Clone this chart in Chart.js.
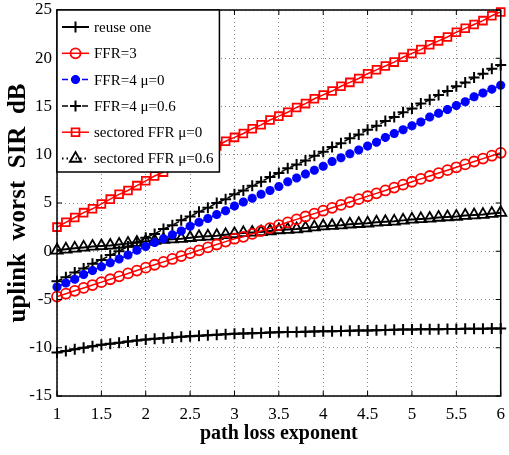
<!DOCTYPE html>
<html>
<head>
<meta charset="utf-8">
<script src="https://cdn.jsdelivr.net/npm/chart.js@4.4.0/dist/chart.umd.min.js"></script>
<style>
  html, body { margin: 0; padding: 0; background: #fff; }
  #wrap { width: 509px; height: 455px; }
</style>
</head>
<body>
<div id="wrap"><canvas id="sirChart"></canvas></div>
<script>
// path loss exponent (x) and the six curves
var pathLoss = [1.0,1.1,1.2,1.3,1.4,1.5,1.6,1.7,1.8,1.9,2.0,2.1,2.2,2.3,2.4,2.5,2.6,2.7,2.8,2.9,3.0,3.1,3.2,3.3,3.4,3.5,3.6,3.7,3.8,3.9,4.0,4.1,4.2,4.3,4.4,4.5,4.6,4.7,4.8,4.9,5.0,5.1,5.2,5.3,5.4,5.5,5.6,5.7,5.8,5.9,6.0];
var reuseOne = [-10.5,-10.33,-10.16,-10.0,-9.85,-9.7,-9.58,-9.47,-9.36,-9.25,-9.15,-9.08,-9.01,-8.94,-8.87,-8.8,-8.75,-8.7,-8.65,-8.6,-8.55,-8.52,-8.49,-8.46,-8.43,-8.4,-8.38,-8.36,-8.34,-8.32,-8.3,-8.28,-8.26,-8.24,-8.22,-8.2,-8.18,-8.16,-8.14,-8.12,-8.1,-8.09,-8.08,-8.07,-8.06,-8.05,-8.04,-8.03,-8.02,-8.01,-8.0];
var ffr3 = [-4.7,-4.4,-4.1,-3.8,-3.5,-3.2,-2.9,-2.6,-2.3,-2.0,-1.7,-1.4,-1.1,-0.8,-0.5,-0.2,0.1,0.4,0.7,1.0,1.3,1.5,1.8,2.1,2.4,2.7,3.0,3.3,3.6,3.9,4.2,4.5,4.8,5.1,5.4,5.7,6.0,6.3,6.6,6.9,7.2,7.5,7.8,8.1,8.4,8.7,9.0,9.3,9.6,9.9,10.2];
var ffr4Mu0 = [-3.7,-3.3,-2.9,-2.4,-2.0,-1.6,-1.2,-0.8,-0.4,0.1,0.5,0.9,1.3,1.7,2.1,2.6,3.0,3.4,3.8,4.2,4.7,5.1,5.5,5.9,6.3,6.7,7.2,7.6,8.0,8.4,8.8,9.3,9.7,10.1,10.5,10.9,11.3,11.8,12.2,12.6,13.0,13.4,13.9,14.3,14.7,15.1,15.5,16.0,16.4,16.8,17.2];
var ffr4Mu06 = [-3.1,-2.7,-2.2,-1.8,-1.3,-0.9,-0.4,0.0,0.5,0.9,1.4,1.8,2.3,2.7,3.2,3.6,4.1,4.5,5.0,5.4,5.9,6.3,6.8,7.2,7.7,8.1,8.6,9.0,9.4,9.9,10.3,10.8,11.2,11.7,12.1,12.6,13.0,13.5,13.9,14.4,14.8,15.3,15.7,16.2,16.6,17.1,17.5,18.0,18.4,18.9,19.3];
var sectoredMu0 = [2.5,3.0,3.5,4.0,4.4,4.9,5.4,5.9,6.3,6.8,7.3,7.8,8.2,8.7,9.1,9.6,10.0,10.5,10.9,11.4,11.8,12.2,12.7,13.1,13.6,14.0,14.4,14.9,15.3,15.8,16.2,16.6,17.1,17.5,17.9,18.4,18.8,19.2,19.6,20.1,20.5,20.9,21.4,21.8,22.2,22.7,23.1,23.5,23.9,24.4,24.8];
var sectoredMu06 = [0.1,0.2,0.3,0.4,0.5,0.55,0.6,0.7,0.8,0.9,1.0,1.1,1.2,1.25,1.3,1.4,1.5,1.55,1.6,1.7,1.8,1.9,1.95,2.0,2.1,2.2,2.25,2.3,2.4,2.5,2.6,2.65,2.7,2.8,2.85,2.9,3.0,3.05,3.1,3.2,3.3,3.35,3.4,3.5,3.55,3.6,3.7,3.75,3.8,3.9,4.0];

var seriesNames = ['reuse one', 'FFR=3', 'FFR=4 μ=0', 'FFR=4 μ=0.6', 'sectored FFR μ=0', 'sectored FFR μ=0.6'];
var xTickValues = [1, 1.5, 2, 2.5, 3, 3.5, 4, 4.5, 5, 5.5, 6];
var yTickValues = [-15, -10, -5, 0, 5, 10, 15, 20, 25];

var serif = '"Liberation Serif", "Times New Roman", serif';

function toPoints(ys) {
  return pathLoss.map(function (x, i) { return { x: x, y: ys[i] }; });
}

function makeSet(name, ys, color, dash, lineW, style, radius, markW, legendDash) {
  return {
    label: name,
    data: toPoints(ys),
    borderColor: color,
    borderWidth: lineW,
    borderDash: dash,
    legendDash: legendDash || dash,
    pointStyle: style,
    pointRadius: radius,
    pointBorderWidth: markW,
    pointBorderColor: color,
    pointBackgroundColor: 'rgba(0,0,0,0)',
    backgroundColor: 'rgba(0,0,0,0)',
    tension: 0,
    clip: false
  };
}

var datasets = [
  makeSet(seriesNames[0], reuseOne, '#000000', [], 2, 'cross', 5.5, 2),
  makeSet(seriesNames[1], ffr3, '#ff0000', [], 1.5, 'circle', 5, 1.8),
  makeSet(seriesNames[2], ffr4Mu0, '#0000ff', [6, 4], 1.5, 'star', 4.5, 3),
  makeSet(seriesNames[3], ffr4Mu06, '#000000', [6, 4], 1.5, 'cross', 5.5, 2),
  makeSet(seriesNames[4], sectoredMu0, '#ff0000', [], 1.5, 'rect', 5.5, 1.8),
  makeSet(seriesNames[5], sectoredMu06, '#000000', [], 2, 'triangle', 6.5, 1.8, [1.5, 3])
];

// draw one marker like chart.js does, for the legend box
function drawMarker(ctx, ds, x, y) {
  var r = ds.pointRadius;
  ctx.save();
  ctx.setLineDash([]);
  ctx.lineWidth = ds.pointBorderWidth;
  ctx.strokeStyle = ds.pointBorderColor;
  ctx.beginPath();
  if (ds.pointStyle === 'cross' || ds.pointStyle === 'star') {
    ctx.moveTo(x - r, y); ctx.lineTo(x + r, y);
    ctx.moveTo(x, y - r); ctx.lineTo(x, y + r);
    if (ds.pointStyle === 'star') {
      var d = r * Math.SQRT1_2;
      ctx.moveTo(x - d, y - d); ctx.lineTo(x + d, y + d);
      ctx.moveTo(x - d, y + d); ctx.lineTo(x + d, y - d);
    }
  } else if (ds.pointStyle === 'circle') {
    ctx.arc(x, y, r, 0, Math.PI * 2);
  } else if (ds.pointStyle === 'rect') {
    var s = r * Math.SQRT1_2;
    ctx.rect(x - s, y - s, 2 * s, 2 * s);
  } else if (ds.pointStyle === 'triangle') {
    ctx.moveTo(x, y - r);
    ctx.lineTo(x + r * 0.866, y + r / 2);
    ctx.lineTo(x - r * 0.866, y + r / 2);
    ctx.closePath();
  }
  ctx.stroke();
  ctx.restore();
}

var framePlugin = {
  id: 'frame',
  afterDatasetsDraw: function (chart) {
    var ctx = chart.ctx, a = chart.chartArea;
    var xs = chart.scales.x, ys = chart.scales.y;
    ctx.save();
    ctx.strokeStyle = '#000';
    ctx.lineWidth = 1;
    ctx.beginPath();
    xTickValues.forEach(function (v) {
      var px = xs.getPixelForValue(v);
      ctx.moveTo(px, a.bottom); ctx.lineTo(px, a.bottom - 5);
      ctx.moveTo(px, a.top); ctx.lineTo(px, a.top + 5);
    });
    yTickValues.forEach(function (v) {
      var py = ys.getPixelForValue(v);
      ctx.moveTo(a.left, py); ctx.lineTo(a.left + 5, py);
      ctx.moveTo(a.right, py); ctx.lineTo(a.right - 5, py);
    });
    ctx.stroke();
    ctx.lineWidth = 1.5;
    ctx.strokeRect(a.left, a.top, a.right - a.left, a.bottom - a.top);
    ctx.restore();
  }
};

var boxLegendPlugin = {
  id: 'boxLegend',
  afterDraw: function (chart) {
    var ctx = chart.ctx, a = chart.chartArea;
    var sets = chart.data.datasets;
    ctx.save();
    ctx.font = '15px ' + serif;
    var textX = a.left + 37;
    var widest = 0;
    sets.forEach(function (ds) { widest = Math.max(widest, ctx.measureText(ds.label).width); });
    var boxW = textX + widest + 6 - a.left;
    var boxH = 162;
    ctx.fillStyle = '#fff';
    ctx.fillRect(a.left, a.top, boxW, boxH);
    ctx.strokeStyle = '#000';
    ctx.lineWidth = 1.5;
    ctx.strokeRect(a.left, a.top, boxW, boxH);
    sets.forEach(function (ds, i) {
      var y = a.top + 17 + i * 26.3;
      ctx.save();
      ctx.strokeStyle = ds.borderColor;
      ctx.lineWidth = ds.borderWidth;
      ctx.setLineDash(ds.legendDash);
      ctx.beginPath();
      ctx.moveTo(a.left + 5, y);
      ctx.lineTo(a.left + 32, y);
      ctx.stroke();
      ctx.restore();
      drawMarker(ctx, ds, a.left + 18.5, y);
      ctx.fillStyle = '#000';
      ctx.textBaseline = 'middle';
      ctx.textAlign = 'left';
      ctx.fillText(ds.label, textX, y + 1);
    });
    ctx.restore();
  }
};

new Chart(document.getElementById('sirChart'), {
  type: 'line',
  data: { datasets: datasets },
  plugins: [framePlugin, boxLegendPlugin],
  options: {
    responsive: true,
    maintainAspectRatio: false,
    animation: false,
    layout: { padding: { top: 10, right: 6, bottom: 0, left: 0 } },
    plugins: {
      legend: { display: false },
      tooltip: { enabled: false }
    },
    scales: {
      x: {
        type: 'linear',
        min: 1,
        max: 6,
        afterBuildTicks: function (scale) {
          scale.ticks = xTickValues.map(function (v) { return { value: v }; });
        },
        afterFit: function (scale) {
          scale.height = 59;
          scale.paddingLeft = 0;
          scale.paddingRight = 0;
        },
        grid: { color: '#8a8a8a', lineWidth: 1, drawTicks: false },
        border: { display: false, dash: [1, 3] },
        ticks: {
          color: '#000', padding: 8, maxRotation: 0,
          font: { family: serif, size: 17 },
          callback: function (v) { return String(v); }
        },
        title: {
          display: true,
          text: 'path loss exponent',
          color: '#000',
          font: { family: serif, size: 20, weight: 'bold' },
          padding: { top: 0, bottom: 9 }
        }
      },
      y: {
        min: -15,
        max: 25,
        afterBuildTicks: function (scale) {
          scale.ticks = yTickValues.map(function (v) { return { value: v }; });
        },
        afterFit: function (scale) {
          scale.width = 57;
          scale.paddingTop = 0;
          scale.paddingBottom = 0;
        },
        grid: { color: '#8a8a8a', lineWidth: 1, drawTicks: false },
        border: { display: false, dash: [1, 3] },
        ticks: {
          color: '#000', padding: 5,
          font: { family: serif, size: 17 },
          callback: function (v) { return String(v); }
        },
        title: {
          display: true,
          text: 'uplink  worst  SIR  dB',
          color: '#000',
          font: { family: serif, size: 25, weight: 'bold' },
          padding: { top: 4, bottom: 0 }
        }
      }
    }
  }
});
</script>
</body>
</html>
